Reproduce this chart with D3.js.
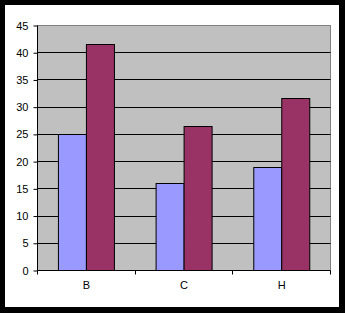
<!DOCTYPE html>
<html>
<head>
<meta charset="utf-8">
<script src="https://cdn.jsdelivr.net/npm/d3@7"></script>
<style>
  body { margin: 0; background: #fff; }
  svg { display: block; }
  text { font-family: "Liberation Sans", Arial, sans-serif; font-size: 11px; fill: #000; }
</style>
</head>
<body>
<script>
var categories = ["B", "C", "H"];
var seriesNames = ["Series1", "Series2"];
var series1 = [25, 15.9, 19];
var series2 = [41.5, 26.5, 31.6];
var yTicks = [0, 5, 10, 15, 20, 25, 30, 35, 40, 45];
var colors = ["#9999ff", "#993366"];

var width = 345,
    height = 313,
    margin = { left: 37.5, top: 25.5, right: 14.5, bottom: 42.5 };

var svg = d3.select("body").append("svg")
    .attr("width", width)
    .attr("height", height);

// outer frame
svg.append("rect").attr("width", width).attr("height", height).attr("fill", "#000");
svg.append("rect").attr("x", 5).attr("y", 5).attr("width", 334).attr("height", 302).attr("fill", "#fff");

var plotW = width - margin.left - margin.right,
    plotH = height - margin.top - margin.bottom;

var g = svg.append("g").attr("transform", "translate(" + margin.left + "," + margin.top + ")");

var x = d3.scaleBand().domain(categories).range([0, plotW]).padding(0);
var y = d3.scaleLinear().domain([0, 45]).range([plotH, 0]);

// plot background
g.append("rect").attr("width", plotW).attr("height", plotH)
    .attr("fill", "#c0c0c0").attr("stroke", "#808080").attr("stroke-width", 1);

// gridlines
g.selectAll("line.grid").data(yTicks.slice(1, -1)).enter().append("line")
    .attr("class", "grid")
    .attr("x1", 0).attr("x2", plotW)
    .attr("y1", function(d) { return Math.round(y(d)); })
    .attr("y2", function(d) { return Math.round(y(d)); })
    .attr("stroke", "#000").attr("stroke-width", 1);

// bars
var barW = x.bandwidth() / 3.5;
var data = categories.map(function(c, i) { return [series1[i], series2[i]]; });

var groups = g.selectAll("g.cat").data(data).enter().append("g")
    .attr("transform", function(d, i) { return "translate(" + (x(categories[i]) + barW * 0.75) + ",0)"; });

groups.selectAll("rect").data(function(d) { return d; }).enter().append("rect")
    .attr("x", function(d, j) { return Math.round(j * barW) - 0.5 + 0.5; })
    .attr("y", function(d) { return Math.round(y(d)); })
    .attr("width", Math.round(barW))
    .attr("height", function(d) { return Math.round(plotH - y(d)); })
    .attr("fill", function(d, j) { return colors[j]; })
    .attr("stroke", "#000").attr("stroke-width", 1);

// y axis
var yAxis = d3.axisLeft(y).tickValues(yTicks).tickSize(4).tickPadding(5);
var ya = g.append("g").call(yAxis);
ya.select(".domain").attr("stroke", "#000").attr("d", "M0,0V" + plotH);
ya.selectAll("text").style("font-family", "Liberation Sans, Arial, sans-serif").style("font-size", "11px");

// x axis
var xAxis = d3.axisBottom(x).tickSize(0).tickPadding(11);
var xa = g.append("g").attr("transform", "translate(0," + plotH + ")").call(xAxis);
xa.select(".domain").attr("stroke", "#000").attr("d", "M0,0H" + plotW);
xa.selectAll("text").style("font-family", "Liberation Sans, Arial, sans-serif").style("font-size", "11px");

// category boundary ticks
var bounds = categories.map(function(c) { return x(c); }).concat([plotW]);
xa.selectAll("line.bound").data(bounds).enter().append("line")
    .attr("class", "bound")
    .attr("x1", function(d) { return Math.round(d); })
    .attr("x2", function(d) { return Math.round(d); })
    .attr("y1", 0).attr("y2", 4)
    .attr("stroke", "#000");
</script>
</body>
</html>
